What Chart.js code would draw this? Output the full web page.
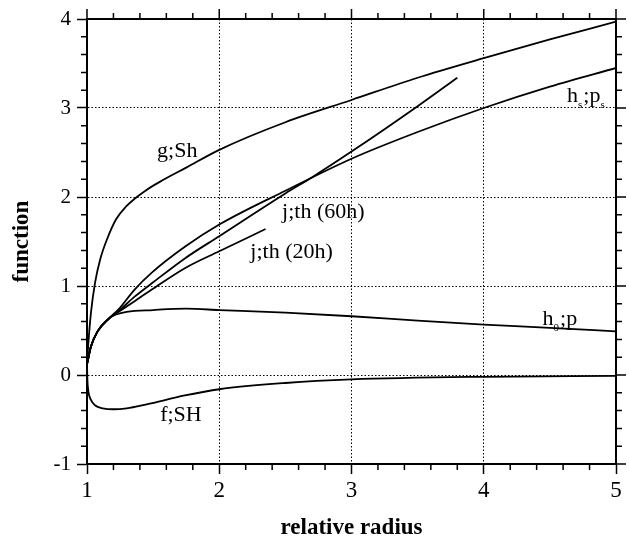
<!DOCTYPE html>
<html>
<head>
<meta charset="utf-8">
<title>function vs relative radius</title>
<script src="https://cdn.jsdelivr.net/npm/chart.js@4.4.1/dist/chart.umd.min.js"></script>
<style>
  html, body { margin: 0; padding: 0; background: #fff; }
  canvas { display: block; }
</style>
</head>
<body>
<canvas id="chart" width="629" height="542"></canvas>
<script>
/* ================= DATA ================= */
// g;Sh
const gX = [1, 1.01, 1.03, 1.06, 1.1, 1.15, 1.22, 1.3, 1.36, 1.45, 1.55, 1.75, 2, 2.5, 3, 3.5, 4, 4.5, 5];
const gY = [0.12, 0.35, 0.7, 1.03, 1.3, 1.52, 1.75, 1.9, 1.98, 2.08, 2.17, 2.33, 2.53, 2.84, 3.09, 3.34, 3.56, 3.77, 3.97];

// h_s;p_s
const hsX = [1, 1.03, 1.08, 1.17, 1.24, 1.36, 1.49, 1.74, 2, 2.5, 3, 3.5, 4, 4.5, 5];
const hsY = [0.12, 0.32, 0.49, 0.64, 0.74, 0.96, 1.15, 1.44, 1.69, 2.07, 2.43, 2.73, 3.0, 3.24, 3.45];

// j;th (60h)
const j60X = [1, 1.03, 1.08, 1.17, 1.24, 1.36, 1.49, 1.74, 2, 2.5, 2.7, 3, 3.5, 3.8];
const j60Y = [0.12, 0.32, 0.49, 0.64, 0.72, 0.88, 1.03, 1.31, 1.56, 2.04, 2.22, 2.51, 3.02, 3.34];

// j;th (20h)
const j20X = [1, 1.03, 1.08, 1.17, 1.24, 1.36, 1.49, 1.74, 2, 2.35];
const j20Y = [0.12, 0.32, 0.49, 0.64, 0.71, 0.83, 0.96, 1.2, 1.39, 1.64];

// h_0;p
const h0X = [1, 1.03, 1.08, 1.17, 1.22, 1.3, 1.5, 1.75, 2, 2.5, 3, 3.5, 4, 4.5, 5];
const h0Y = [0.12, 0.32, 0.49, 0.64, 0.68, 0.71, 0.73, 0.745, 0.73, 0.7, 0.66, 0.61, 0.565, 0.53, 0.49];

// f;SH
const fX = [1, 1.003, 1.01, 1.03, 1.06, 1.12, 1.2, 1.3, 1.45, 1.74, 2, 2.5, 3, 4, 5];
const fY = [0.12, -0.05, -0.18, -0.28, -0.34, -0.375, -0.385, -0.375, -0.33, -0.23, -0.16, -0.09, -0.05, -0.02, -0.01];

const xTicks = [1, 2, 3, 4, 5];
const yTicks = [-1, 0, 1, 2, 3, 4];

/* ================= STYLE ================= */
const SERIF = "'Liberation Serif', 'Times New Roman', serif";
const INK = "#000";
const AXIS_W = 2;
const TICK_W = 1.5;
const MAJOR_LEN = 10;
const MINOR_LEN = 6;

// curve captions, anchored in data units (left end of baseline)
const captions = [
  { parts: [["g;Sh"]], x: 1.53, y: 2.45 },
  { parts: [["j;th (60h)"]], x: 2.475, y: 1.76 },
  { parts: [["j;th (20h)"]], x: 2.235, y: 1.31 },
  { parts: [["h"], ["s", 1], [";p"], ["s", 1]], x: 4.63, y: 3.07 },
  { parts: [["h"], ["0", 1], [";p"]], x: 4.445, y: 0.565 },
  { parts: [["f;SH"]], x: 1.553, y: -0.52 }
];

const pts = (xs, ys) => xs.map((x, i) => ({ x, y: ys[i] }));

function curve(xs, ys) {
  return {
    data: pts(xs, ys),
    borderColor: INK,
    borderWidth: 1.8,
    pointRadius: 0,
    fill: false,
    cubicInterpolationMode: "monotone"
  };
}

/* ================= PLUGINS ================= */
// outer frame on top/right plus the 0.2 minor ticks on every side
const frameTicks = {
  id: "frameTicks",
  afterDraw(chart) {
    const c = chart.ctx;
    const a = chart.chartArea;
    const sx = chart.scales.x;
    const sy = chart.scales.y;

    c.save();
    c.strokeStyle = INK;
    c.lineWidth = AXIS_W;
    c.setLineDash([]);
    c.beginPath();
    c.moveTo(a.left, a.top);
    c.lineTo(a.right, a.top);
    c.lineTo(a.right, a.bottom);
    c.stroke();

    c.lineWidth = TICK_W;
    c.beginPath();
    for (let i = 0; i <= 20; i++) {
      const v = Math.round((1 + i * 0.2) * 10) / 10;
      const px = sx.getPixelForValue(v);
      const major = i % 5 === 0;
      const len = major ? MAJOR_LEN : MINOR_LEN;
      c.moveTo(px, a.top);
      c.lineTo(px, a.top - len);
      if (!major) {
        c.moveTo(px, a.bottom);
        c.lineTo(px, a.bottom + len);
      }
    }
    for (let i = 0; i <= 25; i++) {
      const v = Math.round((-1 + i * 0.2) * 10) / 10;
      const py = sy.getPixelForValue(v);
      const major = i % 5 === 0;
      const len = major ? MAJOR_LEN : MINOR_LEN;
      c.moveTo(a.right, py);
      c.lineTo(a.right + len, py);
      if (!major) {
        c.moveTo(a.left, py);
        c.lineTo(a.left - len, py);
      }
    }
    c.stroke();
    c.restore();
  }
};

// text captions next to each curve, with small subscripts
const curveCaptions = {
  id: "curveCaptions",
  afterDatasetsDraw(chart) {
    const c = chart.ctx;
    const sx = chart.scales.x;
    const sy = chart.scales.y;
    c.save();
    c.fillStyle = INK;
    c.textBaseline = "alphabetic";
    c.textAlign = "left";
    captions.forEach(cap => {
      let px = sx.getPixelForValue(cap.x);
      const py = sy.getPixelForValue(cap.y);
      cap.parts.forEach(([txt, sub]) => {
        c.font = sub ? `11px ${SERIF}` : `22px ${SERIF}`;
        c.fillText(txt, px, sub ? py + 6 : py);
        px += c.measureText(txt).width + (sub ? 1 : 0);
      });
    });
    c.restore();
  }
};

/* ================= CHART ================= */
const ctx = document.getElementById("chart").getContext("2d");

new Chart(ctx, {
  type: "line",
  data: {
    datasets: [
      curve(gX, gY),
      curve(hsX, hsY),
      curve(j60X, j60Y),
      curve(j20X, j20Y),
      curve(h0X, h0Y),
      curve(fX, fY)
    ]
  },
  options: {
    responsive: false,
    devicePixelRatio: 1,
    animation: false,
    layout: { padding: { top: 19, right: 13, left: 0, bottom: 0 } },
    plugins: {
      legend: { display: false },
      tooltip: { enabled: false }
    },
    scales: {
      x: {
        type: "linear",
        min: xTicks[0],
        max: xTicks[xTicks.length - 1],
        afterBuildTicks: s => { s.ticks = xTicks.map(value => ({ value })); },
        afterFit: s => { s.height = 78; },
        ticks: {
          color: INK,
          padding: 3,
          font: { family: SERIF, size: 23 },
          callback: v => String(v)
        },
        grid: {
          color: INK,
          lineWidth: 1,
          drawTicks: true,
          tickLength: MAJOR_LEN,
          tickColor: INK,
          tickWidth: TICK_W,
          tickBorderDash: []
        },
        border: { display: true, color: INK, width: AXIS_W, dash: [1.5, 2] },
        title: {
          display: true,
          text: "relative radius",
          color: INK,
          padding: { top: 0, bottom: 0 },
          font: { family: SERIF, size: 23, weight: "bold" }
        }
      },
      y: {
        type: "linear",
        min: yTicks[0],
        max: yTicks[yTicks.length - 1],
        afterBuildTicks: s => { s.ticks = yTicks.map(value => ({ value })); },
        afterFit: s => { s.width = 87; },
        ticks: {
          color: INK,
          padding: 6,
          font: { family: SERIF, size: 21 },
          callback: v => String(v)
        },
        grid: {
          color: INK,
          lineWidth: 1,
          drawTicks: true,
          tickLength: MAJOR_LEN,
          tickColor: INK,
          tickWidth: TICK_W,
          tickBorderDash: []
        },
        border: { display: true, color: INK, width: AXIS_W, dash: [1.5, 2] },
        title: {
          display: true,
          text: "function",
          color: INK,
          padding: { top: 8, bottom: 0 },
          font: { family: SERIF, size: 23, weight: "bold" }
        }
      }
    }
  },
  plugins: [frameTicks, curveCaptions]
});
</script>
</body>
</html>
